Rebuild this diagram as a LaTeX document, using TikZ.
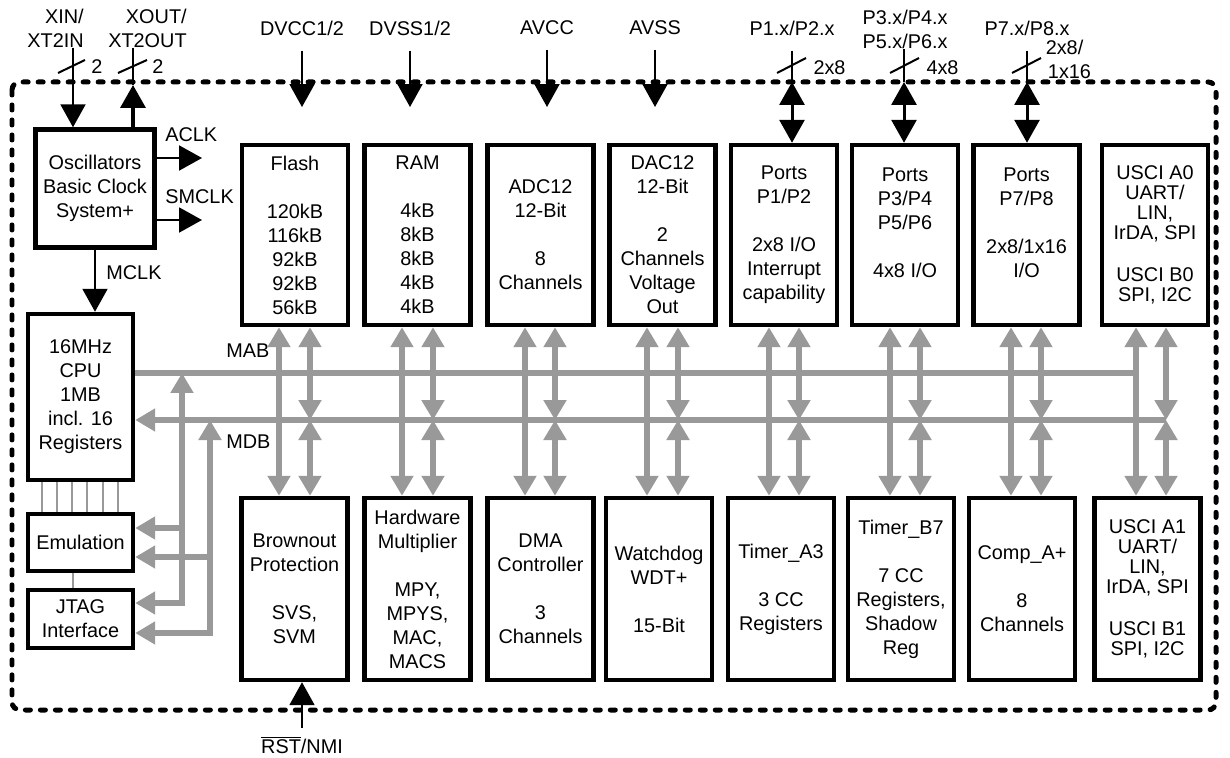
\documentclass[tikz,border=0pt]{standalone}
\usepackage{fontspec}
\setmainfont{Liberation Sans}
\usetikzlibrary{arrows.meta}

\definecolor{busgray}{HTML}{999999}

\tikzset{
  blk/.style={draw, line width=0.09cm, align=center, inner sep=0pt, minimum width=2.12cm},
  toprowbox/.style={blk, minimum height=3.6cm},
  botrowbox/.style={blk, minimum height=3.64cm},
  usci/.style={font=\fontsize{11.3}{11.4}\selectfont},
  lbl/.style={inner sep=0pt, align=center},
  sigarrow/.style={line width=0.04cm, -{Triangle[width=0.5cm,length=0.46cm]}},
  portarrow/.style={line width=0.06cm, {Triangle[width=0.5cm,length=0.46cm]}-{Triangle[width=0.5cm,length=0.46cm]}},
  pinwire/.style={line width=0.04cm},
  busline/.style={draw=busgray, line width=0.13cm},
  busarrow/.style={busline, {Triangle[width=0.44cm,length=0.4cm]}-{Triangle[width=0.44cm,length=0.4cm]}},
  bustap/.style={busline, -{Triangle[width=0.44cm,length=0.4cm]}},
  cpuwire/.style={draw=busgray, line width=0.04cm},
}

\begin{document}
\begin{tikzpicture}[x=0.02cm, y=-0.02cm, font=\fontsize{11.3}{13.66}\selectfont]
    \useasboundingbox (0,0) rectangle (1230,757);

    % Device outline
    \draw[line width=0.1cm, line cap=round, dash pattern=on 0.1cm off 0.2cm, rounded corners=0.16cm] (12,82) rectangle (1216,710);

    % Clock system, CPU, debug
    \node[blk, minimum width=2.38cm, minimum height=2.36cm] (osc) at (95,188.5) {Oscillators\\Basic Clock\\System+};
    \node[blk, minimum width=2.1cm, minimum height=3.32cm] (cpu) at (80.5,397) {16MHz\\CPU\\1MB\\incl. 16\\Registers};
    \node[blk, minimum width=2.1cm, minimum height=1.14cm] (emu) at (80.5,542.5) {Emulation};
    \node[blk, minimum width=2.1cm, minimum height=1.16cm] (jtag) at (80.5,619) {JTAG\\Interface};

    % Top row of modules
    \node[toprowbox] (flash) at (295,235) {Flash\\~\\120kB\\116kB\\92kB\\92kB\\56kB};
    \node[toprowbox] (ram) at (417.5,235) {RAM\\~\\4kB\\8kB\\8kB\\4kB\\4kB};
    \node[toprowbox] (adc) at (540.5,235) {ADC12\\12-Bit\\~\\8\\Channels};
    \node[toprowbox] (dac) at (662.5,235) {DAC12\\12-Bit\\~\\2\\Channels\\Voltage\\Out};
    \node[toprowbox] (pa) at (784,235) {Ports\\P1/P2\\~\\2x8 I/O\\Interrupt\\capability};
    \node[toprowbox] (pb) at (905,235) {Ports\\P3/P4\\P5/P6\\~\\4x8 I/O\\~};
    \node[toprowbox] (pc) at (1026.5,235) {Ports\\P7/P8\\~\\2x8/1x16\\I/O\\~};
    \node[toprowbox, usci] (usa) at (1155,235) {USCI A0\\UART/\\LIN,\\IrDA, SPI\\[0.44cm]USCI B0\\SPI, I2C};

    % Bottom row of modules
    \node[botrowbox] (brown) at (294.5,589) {Brownout\\Protection\\~\\SVS,\\SVM};
    \node[botrowbox] (hwm) at (417.5,589) {Hardware\\Multiplier\\~\\MPY,\\MPYS,\\MAC,\\MACS};
    \node[botrowbox] (dma) at (540.5,589) {DMA\\Controller\\~\\3\\Channels};
    \node[botrowbox] (wdt) at (659,589) {Watchdog\\WDT+\\~\\15-Bit};
    \node[botrowbox] (ta) at (781,589) {Timer\_A3\\~\\3 CC\\Registers};
    \node[botrowbox] (tb) at (901,589) {Timer\_B7\\~\\7 CC\\Registers,\\Shadow\\Reg};
    \node[botrowbox] (comp) at (1022,589) {Comp\_A+\\~\\8\\Channels};
    \node[botrowbox, usci] (usb) at (1147.5,589) {USCI A1\\UART/\\LIN,\\IrDA, SPI\\[0.44cm]USCI B1\\SPI, I2C};

    % Address and data bus
    \coordinate (mabend) at (1136,373);
    \coordinate (mdbend) at (1166,420);
    \draw[busline] (cpu.east |- mabend) -- (mabend); % MAB
    \draw[bustap] (mdbend) -- (cpu.east |- mdbend); % MDB
    \node[lbl, anchor=west] (mab) at (226,351) {MAB};
    \node[lbl, anchor=west] (mdb) at (226,442) {MDB};

    % Module bus connections
    \foreach \up/\dn/\xa/\xb in {flash/brown/279/310, ram/hwm/402/433, adc/dma/525/555, dac/wdt/647/678,
                                 pa/ta/769/799, pb/tb/890/920, pc/comp/1011/1041, usa/usb/1136/1166}{
        \draw[busarrow] (\xa,0 |- \up.south) -- (\xa,0 |- \dn.north);
        \draw[busarrow] (\xb,0 |- \up.south) -- (\xb,420);
        \draw[busarrow] (\xb,420) -- (\xb,0 |- \dn.north);
    }

    % Bus taps to emulation and JTAG
    \coordinate (mabtap) at (182,373);
    \coordinate (mdbtap) at (210,420);
    \coordinate (mabemu) at (182,528);
    \coordinate (mdbemu) at (210,557);
    \coordinate (mabjt) at (182,603);
    \coordinate (mdbjt) at (210,633);
    \draw[busarrow] (jtag.east |- mabjt) -- (mabjt) -- (mabtap);
    \draw[busarrow] (jtag.east |- mdbjt) -- (mdbjt) -- (mdbtap);
    \draw[bustap] (mabemu) -- (emu.east |- mabemu);
    \draw[bustap] (mdbemu) -- (emu.east |- mdbemu);

    % CPU to emulation wires
    \foreach \x in {42,57,72,87,103,118}
        \draw[cpuwire] (\x,0 |- cpu.south) -- (\x,0 |- emu.north);
    \draw[cpuwire] (73,0 |- emu.south) -- (73,0 |- jtag.north);

    % Crystal pins
    \node[lbl, align=right, anchor=east] (xin) at (84,28) {XIN/\\XT2IN};
    \node[lbl, align=right, anchor=east] (xout) at (187,28) {XOUT/\\XT2OUT};
    \draw[sigarrow] (73,0 |- xin.south) -- (73,0 |- osc.north);
    \coordinate (xoutpin) at (133,85);
    \draw[pinwire] (133,0 |- xout.south) -- (xoutpin);
    \draw[line width=0.07cm, -{Triangle[width=0.5cm,length=0.46cm]}] (xoutpin |- osc.north) -- (xoutpin);
    \draw[pinwire] (58,73) -- (85,60);
    \node[lbl] (xinw) at (97,67) {2};
    \draw[pinwire] (118,73) -- (147,60);
    \node[lbl] (xoutw) at (158,67) {2};

    % Clock outputs
    \coordinate (aclkout) at (202,158);
    \coordinate (smclkout) at (202,220);
    \draw[sigarrow] (osc.east |- aclkout) -- (aclkout);
    \draw[sigarrow] (osc.east |- smclkout) -- (smclkout);
    \draw[sigarrow] (osc.south) -- (osc.south |- cpu.north);
    \node[lbl, anchor=west] (aclk) at (165,135) {ACLK};
    \node[lbl, anchor=west] (smclk) at (165,197) {SMCLK};
    \node[lbl, anchor=west] (mclk) at (106,273) {MCLK};

    % Supply pins
    \node[lbl] (dvcc) at (302,28) {DVCC1/2};
    \node[lbl] (dvss) at (410,28) {DVSS1/2};
    \node[lbl] (avcc) at (547,28) {AVCC};
    \node[lbl] (avss) at (655,28) {AVSS};
    \foreach \pin in {dvcc,dvss,avcc,avss}
        \draw[sigarrow, shorten <=0.3cm] (\pin.south) -- (\pin.south |- 0,107);

    % Port pins
    \node[lbl] (p12) at (792,28) {P1.x/P2.x};
    \node[lbl] (p36) at (905,29.5) {P3.x/P4.x\\P5.x/P6.x};
    \node[lbl] (p78) at (1027,28) {P7.x/P8.x};
    \coordinate (p12pin) at (792,82);
    \coordinate (p36pin) at (904,82);
    \coordinate (p78pin) at (1027,82);
    \draw[pinwire, shorten <=0.3cm] (p12.south -| p12pin) -- (p12pin);
    \draw[pinwire] (p36.south -| p36pin) -- (p36pin);
    \draw[pinwire, shorten <=0.3cm] (p78.south -| p78pin) -- (p78pin);
    \draw[portarrow] (p12pin) -- (p12pin |- pa.north);
    \draw[portarrow] (p36pin) -- (p36pin |- pb.north);
    \draw[portarrow] (p78pin) -- (p78pin |- pc.north);
    \draw[pinwire] (777,73) -- (806,58);
    \node[lbl] (p12w) at (829.5,68) {2x8};
    \draw[pinwire] (890,73) -- (919,58);
    \node[lbl] (p36w) at (942.5,68) {4x8};
    \draw[pinwire] (1012,73) -- (1041,58);
    \node[lbl] (p78w) at (1064.5,47) {2x8/};
    \node[lbl] (p78v) at (1069.5,72) {1x16};

    % Reset pin
    \node[lbl] (rst) at (302,745) {$\overline{\mbox{RST}}$/NMI};
    \draw[sigarrow, shorten <=0.16cm] (rst.north -| 302,0) -- (302,0 |- brown.south);
\end{tikzpicture}
\end{document}
